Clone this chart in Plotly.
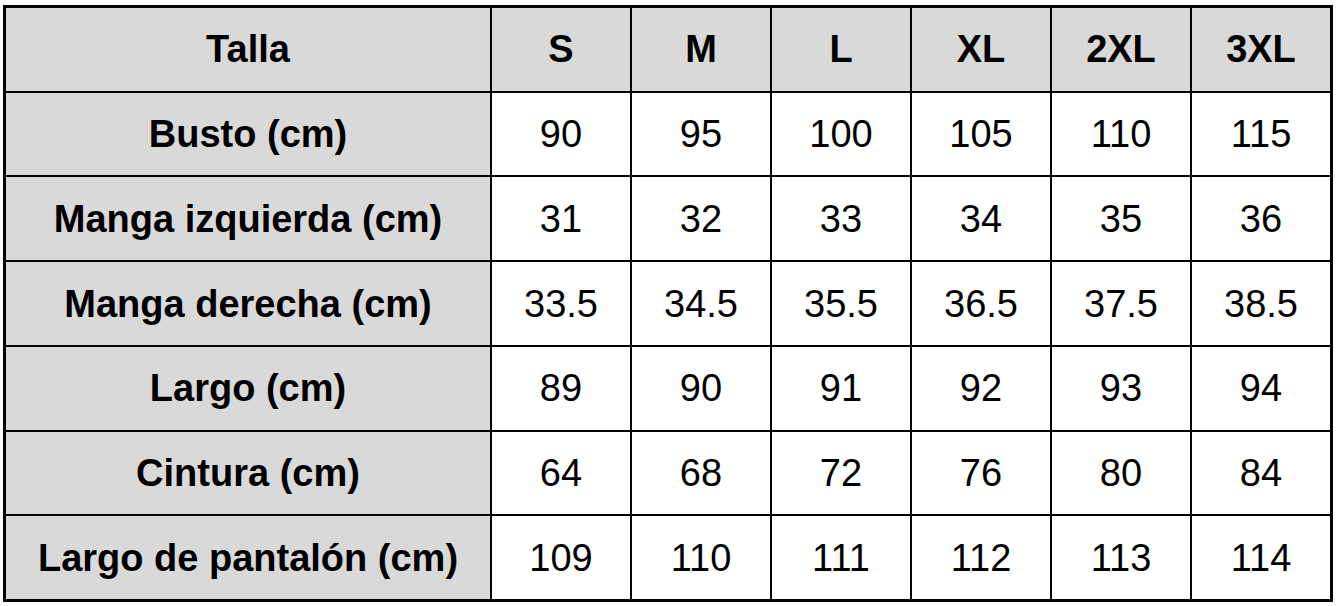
import plotly.graph_objects as go

# tabla de tallas
tallas = ["S", "M", "L", "XL", "2XL", "3XL"]
medidas = [
    "Busto (cm)",
    "Manga izquierda (cm)",
    "Manga derecha (cm)",
    "Largo (cm)",
    "Cintura (cm)",
    "Largo de pantalón (cm)",
]
busto = [90, 95, 100, 105, 110, 115]
manga_izquierda = [31, 32, 33, 34, 35, 36]
manga_derecha = [33.5, 34.5, 35.5, 36.5, 37.5, 38.5]
largo = [89, 90, 91, 92, 93, 94]
cintura = [64, 68, 72, 76, 80, 84]
largo_pantalon = [109, 110, 111, 112, 113, 114]

filas = [busto, manga_izquierda, manga_derecha, largo, cintura, largo_pantalon]

# column edges (px): first column wide, the rest equal
col_edges = [0, 486] + [486 + 140 * (i + 1) for i in range(len(tallas))]
row_edges = list(range(len(medidas) + 2))

text = [["<b>Talla</b>"] + ["<b>%s</b>" % t for t in tallas]]
z = [[1] * (len(tallas) + 1)]
for nombre, vals in zip(medidas, filas):
    text.append(["<b>%s</b>" % nombre] + [str(v) for v in vals])
    z.append([1] + [0] * len(tallas))

fig = go.Figure(
    go.Heatmap(
        x=col_edges,
        y=row_edges,
        z=z,
        text=text,
        texttemplate="%{text}",
        textfont=dict(family="Liberation Sans, Arial, sans-serif", size=38, color="black"),
        colorscale=[[0, "white"], [1, "#d9d9d9"]],
        zmin=0,
        zmax=1,
        showscale=False,
        xgap=2,
        ygap=2,
        hoverinfo="skip",
    )
)

axis = dict(
    showgrid=False,
    zeroline=False,
    showticklabels=False,
    ticks="",
    showline=True,
    mirror=True,
    linecolor="black",
    linewidth=2,
    fixedrange=True,
)
fig.update_xaxes(range=[col_edges[0], col_edges[-1]], **axis)
fig.update_yaxes(range=[row_edges[-1], row_edges[0]], **axis)

fig.update_layout(
    width=1338,
    height=606,
    margin=dict(l=5, r=7, t=5, b=6),
    plot_bgcolor="black",
    paper_bgcolor="white",
)

# page body has a default margin, drop it so the figure sits at the window corner
fig.write_html(
    "out.html",
    config={"displayModeBar": False},
    post_script="document.body.style.margin='0';",
)
